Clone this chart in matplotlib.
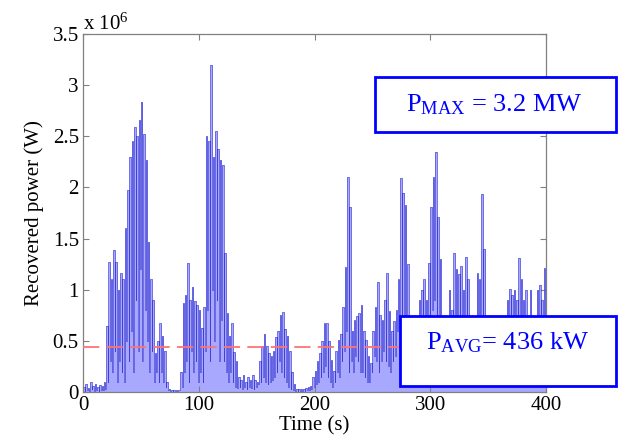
import numpy as np
import matplotlib
matplotlib.use("Agg")
import matplotlib.pyplot as plt
from matplotlib.patches import Rectangle

# Peak power (x 1e6 W) every 2 s, t = 0..400
peak_times = list(range(0, 401, 2))
peak_values = [
    0.05, 0.08, 0.04, 0.10, 0.06, 0.08, 0.05, 0.07, 0.06, 0.10,
    0.65, 1.27, 1.10, 1.39, 1.27, 1.00, 1.16, 1.10, 1.60, 1.97,
    2.30, 2.45, 2.59, 2.50, 2.66, 2.84, 2.52, 2.27, 1.47, 1.10,
    0.90, 0.38, 0.50, 0.67, 0.55, 0.40, 0.10, 0.03, 0.02, 0.02,
    0.02, 0.02, 0.20, 0.87, 0.95, 1.26, 0.90, 1.03, 0.89, 0.85,
    0.80, 0.63, 0.83, 2.50, 2.45, 3.20, 2.30, 2.55, 2.38, 2.27,
    2.22, 1.36, 0.77, 0.55, 0.67, 0.39, 0.30, 0.15, 0.12, 0.17,
    0.10, 0.15, 0.12, 0.17, 0.12, 0.10, 0.30, 0.45, 0.57, 0.45,
    0.38, 0.35, 0.40, 0.54, 0.60, 0.75, 0.78, 0.62, 0.55, 0.40,
    0.20, 0.08, 0.03, 0.03, 0.03, 0.03, 0.04, 0.05, 0.06, 0.15,
    0.21, 0.30, 0.38, 0.50, 0.67, 0.67, 0.50, 0.31, 0.21, 0.40,
    0.51, 0.57, 0.83, 1.22, 2.10, 1.81, 0.60, 0.70, 0.74, 0.77,
    0.85, 0.60, 0.51, 0.35, 0.28, 0.60, 0.83, 1.08, 0.75, 0.70,
    0.90, 1.16, 0.79, 0.60, 0.69, 0.80, 1.10, 2.09, 1.95, 1.83,
    1.25, 0.60, 0.50, 0.40, 0.70, 0.90, 1.00, 1.10, 0.90, 1.26,
    1.81, 2.10, 2.35, 1.71, 1.30, 0.60, 0.50, 0.70, 1.00, 0.80,
    1.36, 1.20, 1.15, 1.23, 1.00, 1.32, 1.10, 0.60, 0.50, 0.70,
    1.16, 1.10, 1.94, 1.40, 0.60, 0.40, 0.50, 0.30, 0.40, 0.50,
    0.35, 0.50, 0.60, 0.90, 1.01, 0.95, 1.00, 0.90, 1.31, 1.10,
    0.90, 1.00, 0.70, 1.00, 0.50, 0.60, 1.00, 1.05, 0.90, 1.21,
    0.50,
]
# Trough power (x 1e6 W) between consecutive peaks
trough_values = [
    0.01, 0.02, 0.01, 0.03, 0.01, 0.02, 0.01, 0.02, 0.02, 0.03,
    0.10, 0.30, 0.20, 0.40, 0.10, 0.30, 0.20, 0.10, 0.50, 0.30,
    0.60, 0.20, 0.90, 0.40, 1.20, 0.30, 0.80, 0.50, 0.20, 0.40,
    0.10, 0.20, 0.10, 0.20, 0.10, 0.05, 0.02, 0.01, 0.01, 0.01,
    0.01, 0.02, 0.05, 0.20, 0.30, 0.10, 0.40, 0.20, 0.30, 0.10,
    0.20, 0.10, 0.40, 0.80, 0.30, 1.00, 0.50, 0.90, 0.30, 0.70,
    0.30, 0.20, 0.10, 0.20, 0.10, 0.05, 0.04, 0.05, 0.03, 0.05,
    0.03, 0.05, 0.04, 0.03, 0.05, 0.08, 0.10, 0.15, 0.10, 0.08,
    0.10, 0.12, 0.15, 0.20, 0.30, 0.20, 0.15, 0.10, 0.05, 0.03,
    0.02, 0.01, 0.01, 0.01, 0.01, 0.01, 0.02, 0.02, 0.03, 0.05,
    0.08, 0.10, 0.15, 0.20, 0.25, 0.15, 0.10, 0.05, 0.10, 0.20,
    0.15, 0.30, 0.40, 0.60, 0.20, 0.30, 0.20, 0.35, 0.30, 0.20,
    0.20, 0.15, 0.10, 0.10, 0.20, 0.35, 0.30, 0.20, 0.30, 0.40,
    0.30, 0.25, 0.20, 0.30, 0.35, 0.60, 0.70, 0.50, 0.40, 0.20,
    0.20, 0.15, 0.10, 0.20, 0.30, 0.35, 0.40, 0.30, 0.40, 0.60,
    0.80, 0.90, 0.70, 0.40, 0.20, 0.15, 0.20, 0.35, 0.30, 0.40,
    0.50, 0.40, 0.45, 0.35, 0.40, 0.30, 0.15, 0.10, 0.20, 0.40,
    0.35, 0.60, 0.50, 0.20, 0.10, 0.10, 0.08, 0.10, 0.12, 0.10,
    0.12, 0.20, 0.30, 0.40, 0.30, 0.35, 0.40, 0.50, 0.30, 0.30,
    0.35, 0.25, 0.30, 0.20, 0.15, 0.30, 0.40, 0.35, 0.30, 0.20,
]
p_avg = 0.436
x_ticks = [0, 100, 200, 300, 400]
y_ticks = [0, 0.5, 1, 1.5, 2, 2.5, 3, 3.5]
y_tick_labels = ["0", "0.5", "1", "1.5", "2", "2.5", "3", "3.5"]
box_max_text = r"$\mathrm{P_{MAX}}$ = 3.2 MW"
box_avg_text = r"$\mathrm{P_{AVG}}$= 436 kW"

# interleave peaks and troughs as held steps
hold = 1.4
t = []
p = []
for i, (tp, vp) in enumerate(zip(peak_times, peak_values)):
    t.append(tp)
    p.append(vp)
    if i < len(trough_values):
        t.append(tp + hold)
        p.append(trough_values[i])
t = np.array(t, dtype=float)
p = np.array(p)

plt.rcParams['font.family'] = ['Liberation Serif', 'DejaVu Serif']
plt.rcParams['mathtext.fontset'] = 'custom'
plt.rcParams['mathtext.rm'] = 'Liberation Serif'
plt.rcParams['mathtext.it'] = 'Liberation Serif:italic'

fig = plt.figure(figsize=(6.29, 4.48), dpi=100)
ax = fig.add_axes([83/629, 1-392/448, (546-83)/629, (392-34)/448])

ax.fill_between(t, 0, p, step='post', color=(0.66, 0.66, 1.0), lw=0, zorder=1)
ax.plot(t, p, drawstyle='steps-post', color=(0.25, 0.25, 0.85), lw=0.5, zorder=2)
ax.axhline(p_avg, color=(1.0, 0.45, 0.45), lw=1.3, dashes=(9, 4), zorder=3)

ax.set_xlim(0, 400)
ax.set_ylim(0, 3.5)
ax.set_xticks(x_ticks)
ax.set_yticks(y_ticks)
ax.set_yticklabels(y_tick_labels)
ax.tick_params(direction='in', length=4, width=0.8, colors=(0.5, 0.5, 0.5),
               labelcolor='black', labelsize=15, top=True, right=True, pad=3)
for s in ax.spines.values():
    s.set_color((0.5, 0.5, 0.5))
    s.set_linewidth(0.9)
ax.set_xlabel("Time (s)", fontsize=15, labelpad=1)
ax.set_ylabel("Recovered power (W)", fontsize=15, labelpad=6)

fig.text(83/629, 1-30/448, r"x 10$^{6}$", fontsize=15, ha='left', va='baseline')

# annotation boxes
r1 = Rectangle((375/629, 1-132/448), (616-375)/629, (132-77)/448, transform=fig.transFigure,
               facecolor='white', edgecolor=(0, 0, 1), lw=2, zorder=10)
fig.patches.append(r1)
fig.text(494/629, 1-105/448, box_max_text, fontsize=19, color=(0, 0, 1),
         ha='center', va='center', zorder=11)
r2 = Rectangle((400/629, 1-386/448), (616-400)/629, (386-316)/448, transform=fig.transFigure,
               facecolor='white', edgecolor=(0, 0, 1), lw=2, zorder=10)
fig.patches.append(r2)
fig.text(426/629, 1-343/448, box_avg_text, fontsize=19, color=(0, 0, 1),
         ha='left', va='center', zorder=11)

fig.savefig("out.png", dpi=100)
